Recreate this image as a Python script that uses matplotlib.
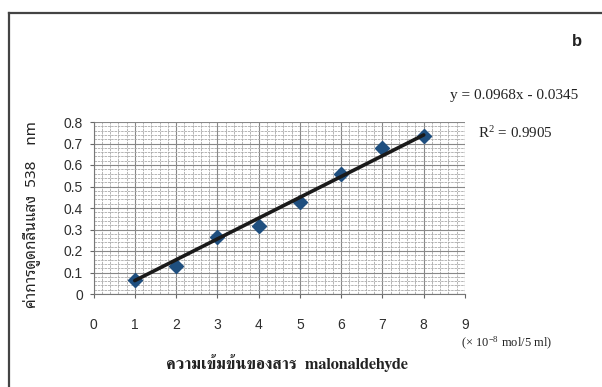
import matplotlib
matplotlib.use('Agg')
import matplotlib.pyplot as plt
from matplotlib.ticker import MultipleLocator

# concentration (x 10^-8 mol / 5 ml) and absorbance at 538 nm
conc = [1, 2, 3, 4, 5, 6, 7, 8]
absorb = [0.065, 0.13, 0.265, 0.315, 0.43, 0.56, 0.68, 0.735]

# trendline reported on the chart
slope = 0.0968
intercept = -0.0345
r2 = 0.9905

x_ticks = [0, 1, 2, 3, 4, 5, 6, 7, 8, 9]
y_ticks = [0, 0.1, 0.2, 0.3, 0.4, 0.5, 0.6, 0.7, 0.8]

plt.rcParams['mathtext.fontset'] = 'stix'

W, H = 602, 387
fig = plt.figure(figsize=(W / 100, H / 100), dpi=100)

# scanned page frame (top and left edges only)
fig.add_artist(plt.Line2D([9 / W, 1], [1 - 13 / H, 1 - 13 / H], color='#444444', lw=1.6))
fig.add_artist(plt.Line2D([9 / W, 9 / W], [0, 1 - 13 / H], color='#444444', lw=1.6))

ax = fig.add_axes([93.5 / W, 1 - 294 / H, (465 - 93.5) / W, (294 - 122) / H])
ax.set_xlim(0, 9)
ax.set_ylim(0, 0.8)

ax.xaxis.set_minor_locator(MultipleLocator(0.2))
ax.yaxis.set_minor_locator(MultipleLocator(0.02))
ax.grid(which='minor', color='#aaaaaa', lw=0.6, ls=(0, (3, 1)))
ax.grid(which='major', color='#888888', lw=0.8)
ax.set_axisbelow(True)

ax.set_xticks(x_ticks)
ax.set_yticks(y_ticks)
ax.set_yticklabels([('%g' % v) for v in y_ticks])
ax.tick_params(which='minor', length=0)
ax.tick_params(axis='x', which='major', length=3, pad=14, labelsize=10, labelcolor='#2e2e2e', color='#666666')
ax.tick_params(axis='y', which='major', length=3, pad=4.5, labelsize=10, labelcolor='#2e2e2e', color='#666666')
for lab in ax.get_xticklabels() + ax.get_yticklabels():
    lab.set_family('Liberation Sans')

for side in ['top', 'right']:
    ax.spines[side].set_visible(False)
for side in ['left', 'bottom']:
    ax.spines[side].set_color('#777777')
    ax.spines[side].set_linewidth(0.8)

ax.plot(conc, absorb, ls='none', marker='D', ms=7, color='#1f4f7f', zorder=3)
x_fit = [min(conc), max(conc)]
y_fit = [slope * v + intercept for v in x_fit]
ax.plot(x_fit, y_fit, color='#1a1a1a', lw=2.6, solid_capstyle='round', zorder=4)

fig.text(31 / W, 1 - 215 / H, 'ค่าการดูดกลืนแสง  538    nm', rotation=90,
         ha='center', va='center', fontsize=11, fontweight='bold', color='#222222',
         family=['Noto Sans Thai Looped', 'Liberation Sans'])
fig.text(287 / W, 1 - 363 / H, 'ความเข้มข้นของสาร  malonaldehyde', ha='center', va='center',
         fontsize=11.8, fontweight='bold', color='#222222', family=['FreeSerif'])
fig.text(461 / W, 1 - 343 / H, r'(× 10$^{\mathregular{-8}}$ mol/5 ml)', ha='left', va='center',
         fontsize=9, color='#222222', family='Liberation Serif')

fig.text(450 / W, 1 - 95 / H, 'y = %.4fx - %.4f' % (slope, -intercept), ha='left', va='center',
         fontsize=11, color='#222222', family='Liberation Serif')
fig.text(478 / W, 1 - 133 / H, r'R$^{\mathregular{2}}$ = %.4f' % r2, ha='left', va='center',
         fontsize=10.8, color='#222222', family='Liberation Serif')
fig.text(577 / W, 1 - 42 / H, 'b', ha='center', va='center', fontsize=12,
         fontweight='bold', color='#222222', family='Liberation Sans')

fig.savefig('out.png', dpi=100)
